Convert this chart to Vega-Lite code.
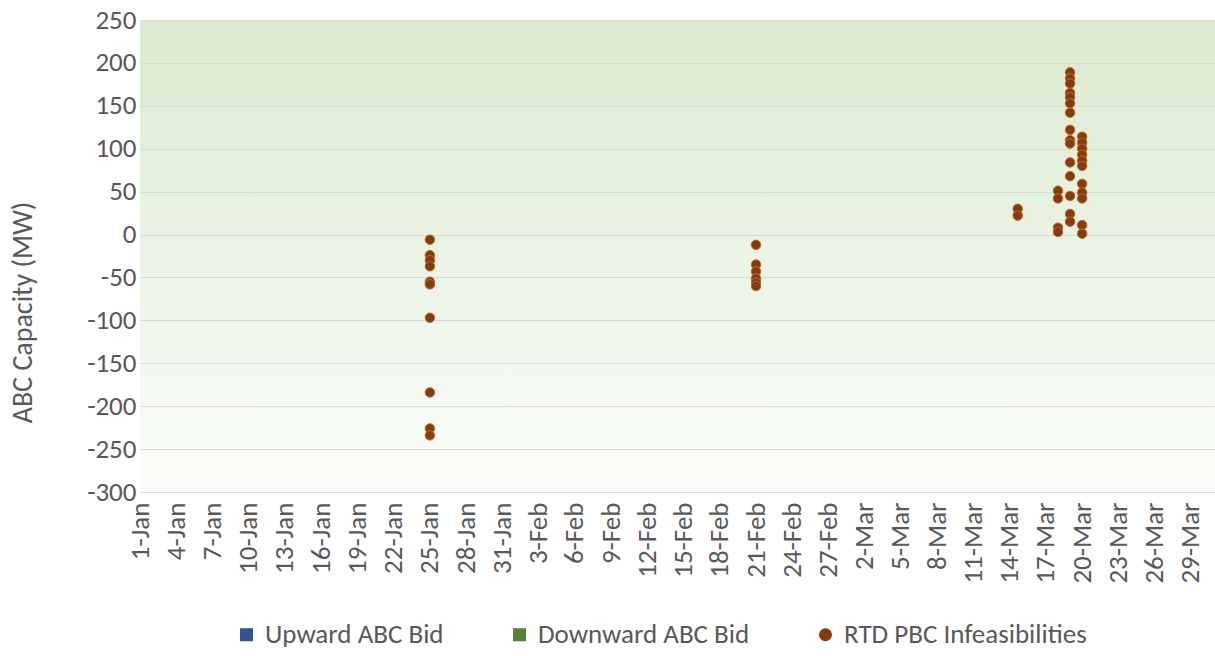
{
  "$schema": "https://vega.github.io/schema/vega-lite/v6.json",
  "autosize": {"type": "none"},
  "padding": {"left": 140, "top": 20, "right": 0, "bottom": 164},
  "width": 1075,
  "height": 472,
  "background": "#ffffff",
  "config": {
    "font": "Carlito, Lato, sans-serif",
    "view": {
      "stroke": null,
      "fill": {
        "gradient": "linear",
        "x1": 0, "y1": 0, "x2": 0, "y2": 1,
        "stops": [
          {"offset": 0, "color": "#dbead0"},
          {"offset": 1, "color": "#fbfdfa"}
        ]
      }
    }
  },
  "data": {
    "values": [
      {"date": "2021-01-25", "mw": -6, "series": "RTD PBC Infeasibilities"},
      {"date": "2021-01-25", "mw": -24, "series": "RTD PBC Infeasibilities"},
      {"date": "2021-01-25", "mw": -30, "series": "RTD PBC Infeasibilities"},
      {"date": "2021-01-25", "mw": -37, "series": "RTD PBC Infeasibilities"},
      {"date": "2021-01-25", "mw": -55, "series": "RTD PBC Infeasibilities"},
      {"date": "2021-01-25", "mw": -58, "series": "RTD PBC Infeasibilities"},
      {"date": "2021-01-25", "mw": -97, "series": "RTD PBC Infeasibilities"},
      {"date": "2021-01-25", "mw": -184, "series": "RTD PBC Infeasibilities"},
      {"date": "2021-01-25", "mw": -226, "series": "RTD PBC Infeasibilities"},
      {"date": "2021-01-25", "mw": -234, "series": "RTD PBC Infeasibilities"},
      {"date": "2021-02-21", "mw": -12, "series": "RTD PBC Infeasibilities"},
      {"date": "2021-02-21", "mw": -35, "series": "RTD PBC Infeasibilities"},
      {"date": "2021-02-21", "mw": -43, "series": "RTD PBC Infeasibilities"},
      {"date": "2021-02-21", "mw": -51, "series": "RTD PBC Infeasibilities"},
      {"date": "2021-02-21", "mw": -56, "series": "RTD PBC Infeasibilities"},
      {"date": "2021-02-21", "mw": -60, "series": "RTD PBC Infeasibilities"},
      {"date": "2021-03-14T16:00:00Z", "mw": 30, "series": "RTD PBC Infeasibilities"},
      {"date": "2021-03-14T16:00:00Z", "mw": 22, "series": "RTD PBC Infeasibilities"},
      {"date": "2021-03-18", "mw": 51, "series": "RTD PBC Infeasibilities"},
      {"date": "2021-03-18", "mw": 42, "series": "RTD PBC Infeasibilities"},
      {"date": "2021-03-18", "mw": 8, "series": "RTD PBC Infeasibilities"},
      {"date": "2021-03-18", "mw": 3, "series": "RTD PBC Infeasibilities"},
      {"date": "2021-03-19", "mw": 189, "series": "RTD PBC Infeasibilities"},
      {"date": "2021-03-19", "mw": 182, "series": "RTD PBC Infeasibilities"},
      {"date": "2021-03-19", "mw": 176, "series": "RTD PBC Infeasibilities"},
      {"date": "2021-03-19", "mw": 165, "series": "RTD PBC Infeasibilities"},
      {"date": "2021-03-19", "mw": 160, "series": "RTD PBC Infeasibilities"},
      {"date": "2021-03-19", "mw": 153, "series": "RTD PBC Infeasibilities"},
      {"date": "2021-03-19", "mw": 142, "series": "RTD PBC Infeasibilities"},
      {"date": "2021-03-19", "mw": 122, "series": "RTD PBC Infeasibilities"},
      {"date": "2021-03-19", "mw": 110, "series": "RTD PBC Infeasibilities"},
      {"date": "2021-03-19", "mw": 106, "series": "RTD PBC Infeasibilities"},
      {"date": "2021-03-19", "mw": 84, "series": "RTD PBC Infeasibilities"},
      {"date": "2021-03-19", "mw": 68, "series": "RTD PBC Infeasibilities"},
      {"date": "2021-03-19", "mw": 45, "series": "RTD PBC Infeasibilities"},
      {"date": "2021-03-19", "mw": 24, "series": "RTD PBC Infeasibilities"},
      {"date": "2021-03-19", "mw": 15, "series": "RTD PBC Infeasibilities"},
      {"date": "2021-03-20", "mw": 114, "series": "RTD PBC Infeasibilities"},
      {"date": "2021-03-20", "mw": 107, "series": "RTD PBC Infeasibilities"},
      {"date": "2021-03-20", "mw": 100, "series": "RTD PBC Infeasibilities"},
      {"date": "2021-03-20", "mw": 93, "series": "RTD PBC Infeasibilities"},
      {"date": "2021-03-20", "mw": 86, "series": "RTD PBC Infeasibilities"},
      {"date": "2021-03-20", "mw": 80, "series": "RTD PBC Infeasibilities"},
      {"date": "2021-03-20", "mw": 59, "series": "RTD PBC Infeasibilities"},
      {"date": "2021-03-20", "mw": 49, "series": "RTD PBC Infeasibilities"},
      {"date": "2021-03-20", "mw": 42, "series": "RTD PBC Infeasibilities"},
      {"date": "2021-03-20", "mw": 11, "series": "RTD PBC Infeasibilities"},
      {"date": "2021-03-20", "mw": 1, "series": "RTD PBC Infeasibilities"}
    ]
  },
  "mark": {"type": "point", "filled": true, "opacity": 1, "size": 90, "stroke": "#c2672c", "strokeWidth": 1},
  "encoding": {
    "x": {
      "field": "date",
      "type": "temporal",
      "scale": {
        "type": "utc",
        "domain": [
          {"year": 2021, "month": 1, "date": 1, "utc": true},
          {"year": 2021, "month": 3, "date": 31, "utc": true}
        ]
      },
      "axis": {
        "title": null,
        "labelExpr": "utcFormat(datum.value, '%-d-%b')",
        "values": [
          {"year": 2021, "month": 1, "date": 1, "utc": true},
          {"year": 2021, "month": 1, "date": 4, "utc": true},
          {"year": 2021, "month": 1, "date": 7, "utc": true},
          {"year": 2021, "month": 1, "date": 10, "utc": true},
          {"year": 2021, "month": 1, "date": 13, "utc": true},
          {"year": 2021, "month": 1, "date": 16, "utc": true},
          {"year": 2021, "month": 1, "date": 19, "utc": true},
          {"year": 2021, "month": 1, "date": 22, "utc": true},
          {"year": 2021, "month": 1, "date": 25, "utc": true},
          {"year": 2021, "month": 1, "date": 28, "utc": true},
          {"year": 2021, "month": 1, "date": 31, "utc": true},
          {"year": 2021, "month": 2, "date": 3, "utc": true},
          {"year": 2021, "month": 2, "date": 6, "utc": true},
          {"year": 2021, "month": 2, "date": 9, "utc": true},
          {"year": 2021, "month": 2, "date": 12, "utc": true},
          {"year": 2021, "month": 2, "date": 15, "utc": true},
          {"year": 2021, "month": 2, "date": 18, "utc": true},
          {"year": 2021, "month": 2, "date": 21, "utc": true},
          {"year": 2021, "month": 2, "date": 24, "utc": true},
          {"year": 2021, "month": 2, "date": 27, "utc": true},
          {"year": 2021, "month": 3, "date": 2, "utc": true},
          {"year": 2021, "month": 3, "date": 5, "utc": true},
          {"year": 2021, "month": 3, "date": 8, "utc": true},
          {"year": 2021, "month": 3, "date": 11, "utc": true},
          {"year": 2021, "month": 3, "date": 14, "utc": true},
          {"year": 2021, "month": 3, "date": 17, "utc": true},
          {"year": 2021, "month": 3, "date": 20, "utc": true},
          {"year": 2021, "month": 3, "date": 23, "utc": true},
          {"year": 2021, "month": 3, "date": 26, "utc": true},
          {"year": 2021, "month": 3, "date": 29, "utc": true}
        ],
        "labelAngle": 270,
        "labelAlign": "right",
        "labelBaseline": "middle",
        "labelPadding": 10,
        "labelFontSize": 27,
        "labelColor": "#595959",
        "labelOverlap": false,
        "labelFlush": false,
        "ticks": false,
        "grid": false,
        "domain": false
      }
    },
    "y": {
      "field": "mw",
      "type": "quantitative",
      "scale": {"domain": [-300, 250], "nice": false, "zero": false},
      "axis": {
        "title": "ABC Capacity (MW)",
        "titleFontSize": 28,
        "titleFontWeight": "normal",
        "titleColor": "#595959",
        "titleX": -117,
        "titleY": 292,
        "titleBaseline": "middle",
        "titleAlign": "center",
        "titleAngle": 270,
        "values": [-300, -250, -200, -150, -100, -50, 0, 50, 100, 150, 200, 250],
        "labelExpr": "replace(datum.label, '\u2212', '-')",
        "labelFontSize": 27,
        "labelColor": "#595959",
        "labelPadding": 4,
        "labelFlush": false,
        "ticks": false,
        "domain": false,
        "grid": true,
        "gridColor": "#d9d9d9",
        "gridWidth": 1.2
      }
    },
    "color": {
      "field": "series",
      "type": "nominal",
      "scale": {
        "domain": ["Upward ABC Bid", "Downward ABC Bid", "RTD PBC Infeasibilities"],
        "range": ["#2f5597", "#548235", "#843c0c"]
      },
      "legend": {
        "title": null,
        "orient": "none",
        "legendX": 93,
        "legendY": 601,
        "direction": "horizontal",
        "labelFontSize": 27,
        "labelColor": "#595959",
        "labelLimit": 500,
        "labelOffset": 5,
        "columnPadding": 62,
        "symbolSize": 170,
        "symbolStrokeWidth": 0
      }
    },
    "shape": {
      "field": "series",
      "type": "nominal",
      "scale": {
        "domain": ["Upward ABC Bid", "Downward ABC Bid", "RTD PBC Infeasibilities"],
        "range": ["square", "square", "circle"]
      },
      "legend": null
    }
  }
}
